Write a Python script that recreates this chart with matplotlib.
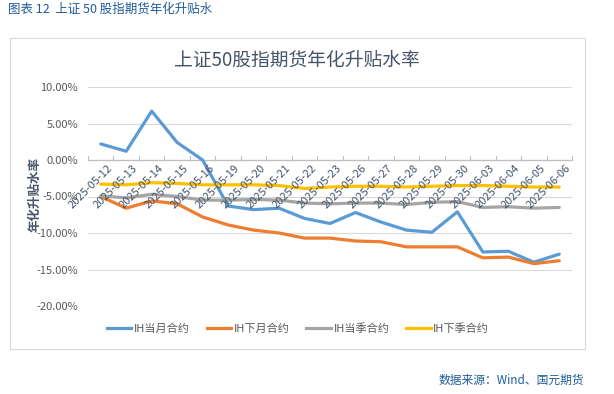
import matplotlib
matplotlib.use("Agg")
import matplotlib.pyplot as plt
from matplotlib.patches import Rectangle
from matplotlib.lines import Line2D

plt.rcParams['font.family'] = ['Noto Sans CJK SC', 'DejaVu Sans']

dates = ["2025-05-12", "2025-05-13", "2025-05-14", "2025-05-15", "2025-05-16",
         "2025-05-19", "2025-05-20", "2025-05-21", "2025-05-22", "2025-05-23",
         "2025-05-26", "2025-05-27", "2025-05-28", "2025-05-29", "2025-05-30",
         "2025-06-03", "2025-06-04", "2025-06-05", "2025-06-06"]

ih_cur_month = [2.2, 1.2, 6.7, 2.4, 0.0, -6.3, -6.8, -6.6, -8.0, -8.7,
                -7.2, -8.5, -9.6, -9.9, -7.1, -12.6, -12.5, -14.0, -12.9]
ih_next_month = [-5.0, -6.6, -5.6, -6.0, -7.8, -8.9, -9.6, -10.0, -10.7, -10.7,
                 -11.1, -11.2, -11.9, -11.9, -11.9, -13.4, -13.3, -14.2, -13.8]
ih_cur_quarter = [-4.9, -5.2, -4.7, -5.0, -5.5, -5.5, -5.4, -5.5, -5.9, -6.0,
                  -5.9, -5.9, -6.1, -5.8, -5.7, -6.5, -6.4, -6.6, -6.5]
ih_next_quarter = [-3.3, -3.4, -3.1, -3.2, -3.4, -3.4, -3.4, -3.5, -3.9, -3.7,
                   -3.6, -3.6, -3.7, -3.6, -3.5, -3.5, -3.6, -3.7, -3.7]

series_names = ["IH当月合约", "IH下月合约", "IH当季合约", "IH下季合约"]
colors = ["#5B9BD5", "#ED7D31", "#A5A5A5", "#FFC000"]
yticks = [10, 5, 0, -5, -10, -15, -20]

W, H = 614, 394
fig = plt.figure(figsize=(W / 100, H / 100), dpi=100)

# chart frame
fig.patches.append(Rectangle((10 / W, 1 - 349 / H), 575 / W, 311 / H,
                             transform=fig.transFigure, fill=False,
                             edgecolor="#D9D9D9", lw=0.8))

ax = fig.add_axes([88 / W, 1 - 306 / H, 484 / W, 219 / H])
x = list(range(len(dates)))
for vals, c in zip([ih_cur_month, ih_next_month, ih_cur_quarter, ih_next_quarter], colors):
    ax.plot(x, vals, color=c, lw=2.3, solid_capstyle='round', solid_joinstyle='round', zorder=3)

ax.set_xlim(-0.5, len(dates) - 0.5)
ax.set_ylim(-20, 10)
ax.set_yticks(yticks)
ax.set_yticklabels([f"{v:.2f}%" for v in yticks], fontsize=8, color="#595959")
ax.tick_params(axis='y', length=0, pad=7)
ax.grid(axis='y', color="#D9D9D9", lw=0.8)
ax.set_axisbelow(True)
for s in ax.spines.values():
    s.set_visible(False)
ax.axhline(0, color="#BFBFBF", lw=0.9, zorder=1)
ax.set_xticks([])
# tick marks at category boundaries on the zero line
for b in range(len(dates) + 1):
    ax.plot([b - 0.5, b - 0.5], [0, 0.6], color="#BFBFBF", lw=0.8, zorder=1, clip_on=False)
for i, d in enumerate(dates):
    ax.text(i + 0.25, -0.4, d, rotation=45, ha='right', va='top', fontsize=8,
            color="#44546A", rotation_mode='anchor', zorder=4)

fig.text(35 / W, 1 - 195 / H, "年化升贴水率", rotation=90, ha='center', va='center',
         fontsize=9, fontweight='bold', color="#44546A")

fig.text(297 / W, 1 - 60 / H, "上证50股指期货年化升贴水率", ha='center', va='center',
         fontsize=13.5, color="#44546A")
fig.text(8 / W, 1 - 9 / H, "图表 12  上证 50 股指期货年化升贴水", ha='left', va='center',
         fontsize=9, color="#1F5C99")
fig.text(584 / W, 1 - 380 / H, "数据来源：Wind、国元期货", ha='right', va='center',
         fontsize=8.5, color="#1F5C99")

handles = [Line2D([0], [0], color=c, lw=2.3) for c in colors]
fig.legend(handles, series_names, loc='center', bbox_to_anchor=(298 / W, 1 - 329 / H),
           ncol=4, frameon=False, fontsize=8, handlelength=2.2, handletextpad=0.25,
           columnspacing=1.5, labelcolor="#595959")

fig.savefig("out.png", dpi=100)
